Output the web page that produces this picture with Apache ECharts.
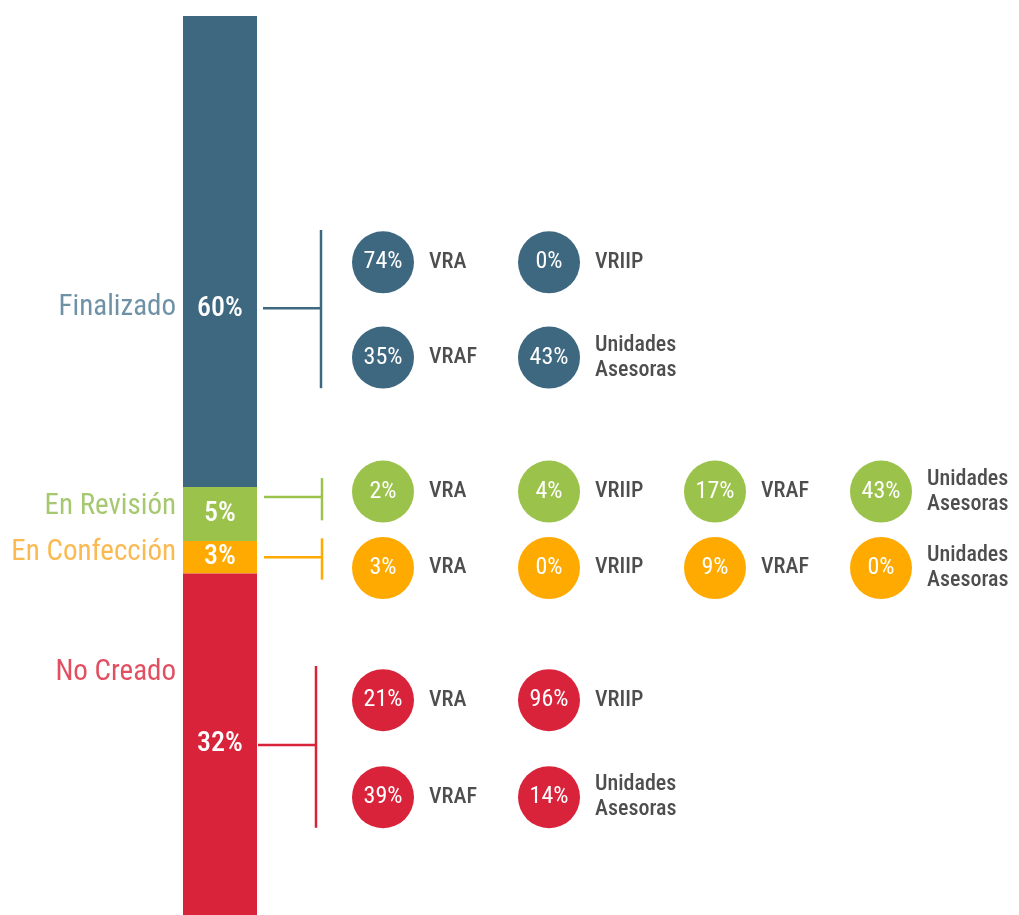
<!DOCTYPE html>
<html>
<head>
<meta charset="utf-8">
<script src="https://cdn.jsdelivr.net/npm/echarts@6/dist/echarts.min.js"></script>
<style>
  html, body { margin: 0; padding: 0; background: #fff; }
  #chart { width: 1019px; height: 915px; }
</style>
</head>
<body>
<div id="chart"></div>
<script>
// estados del proceso
const estados = ['Finalizado', 'En Revisión', 'En Confección', 'No Creado'];
const estadoPct = [60, 5, 3, 32];          // porcentaje impreso en la barra
const barShare = [52.4, 6.0, 3.6, 38.0];   // alto de cada tramo tal como se dibuja
const colores = ['#3e6880', '#9bc24b', '#ffaa00', '#d9233a'];
const coloresTexto = ['#4a7590', '#8fba4c', '#f9a825', '#d9233a'];

// detalle por unidad
const unidades = ['VRA', 'VRIIP', 'VRAF', 'Unidades\nAsesoras'];
const finalizado = [74, 0, 35, 43];
const revision = [2, 4, 17, 43];
const confeccion = [3, 0, 9, 0];
const noCreado = [21, 96, 39, 14];

// posiciones de fila (en unidades del eje vertical 0-100)
const nameRow = [32.5, 54.6, 59.7, 73.0];
const finRows = [27.4, 38.0];
const revRow = 52.9;
const confRow = 61.4;
const noRows = [76.1, 86.9];
// corchetes: centro, arriba, abajo
const brackets = [
  [32.5, 23.8, 41.4],
  [53.5, 51.4, 56.1],
  [60.2, 58.1, 62.7],
  [81.1, 72.3, 90.3]
];
const bracketDx = [-62, -61, -61, -67];

const FONT = "'Roboto Condensed', 'Liberation Sans Narrow', Roboto, sans-serif";

function circleItems(values, cells, color) {
  return values.map(function (v, i) {
    return {
      value: [cells[i][0], cells[i][1]],
      pct: v,
      unidad: unidades[i],
      itemStyle: { color: color }
    };
  });
}

const bloques = [
  circleItems(finalizado, [[0, finRows[0]], [1, finRows[0]], [0, finRows[1]], [1, finRows[1]]], colores[0]),
  circleItems(revision, [[0, revRow], [1, revRow], [2, revRow], [3, revRow]], colores[1]),
  circleItems(confeccion, [[0, confRow], [1, confRow], [2, confRow], [3, confRow]], colores[2]),
  circleItems(noCreado, [[0, noRows[0]], [1, noRows[0]], [0, noRows[1]], [1, noRows[1]]], colores[3])
];

const circleSeries = bloques.map(function (data) {
  return {
    type: 'scatter',
    xAxisIndex: 1,
    yAxisIndex: 1,
    symbolSize: 62,
    data: data,
    silent: true,
    itemStyle: { opacity: 1 },
    label: {
      show: true,
      position: 'inside',
      formatter: function (p) { return p.data.pct + '%'; },
      color: '#fff',
      fontFamily: FONT,
      fontSize: 24
    }
  };
});

const unitLabelSeries = bloques.map(function (data) {
  return {
    type: 'scatter',
    xAxisIndex: 1,
    yAxisIndex: 1,
    symbolSize: 62,
    data: data.map(function (d) {
      return { value: d.value, unidad: d.unidad, itemStyle: { color: 'rgba(0,0,0,0)' } };
    }),
    silent: true,
    label: {
      show: true,
      position: 'right',
      distance: 15,
      formatter: function (p) { return p.data.unidad; },
      color: '#222',
      fontWeight: 500,
      fontFamily: FONT,
      fontSize: 22,
      lineHeight: 25
    }
  };
});

const barSeries = estados.map(function (name, i) {
  return {
    type: 'bar',
    name: name,
    stack: 'total',
    barWidth: '100%',
    xAxisIndex: 0,
    yAxisIndex: 0,
    itemStyle: { color: colores[i] },
    label: {
      show: true,
      position: 'inside',
      offset: i === 0 ? [0, 57] : [0, 0],
      formatter: estadoPct[i] + '%',
      color: '#fff',
      fontWeight: 500,
      fontFamily: FONT,
      fontSize: 28
    },
    data: [barShare[i]]
  };
});

const nameSeries = {
  type: 'scatter',
  xAxisIndex: 0,
  yAxisIndex: 0,
  symbolSize: 0,
  silent: true,
  data: estados.map(function (n, i) {
    return {
      value: [0, nameRow[i]],
      label: { color: coloresTexto[i], formatter: n }
    };
  }),
  label: {
    show: true,
    position: 'left',
    distance: 44,
    fontFamily: FONT,
    fontSize: 29
  }
};

const bracketSeries = {
  type: 'custom',
  xAxisIndex: 1,
  yAxisIndex: 1,
  silent: true,
  data: brackets.map(function (b, i) { return [b[0], b[1], b[2], i]; }),
  renderItem: function (params, api) {
    const i = api.value(3);
    const mid = api.coord([0, api.value(0)]);
    const top = api.coord([0, api.value(1)]);
    const bot = api.coord([0, api.value(2)]);
    const vx = mid[0] + bracketDx[i];
    const style = { stroke: colores[i], lineWidth: 2.5 };
    return {
      type: 'group',
      children: [
        { type: 'line', shape: { x1: vx - 58, y1: mid[1], x2: vx, y2: mid[1] }, style: style },
        { type: 'line', shape: { x1: vx, y1: top[1], x2: vx, y2: bot[1] }, style: style }
      ]
    };
  }
};

const chart = echarts.init(document.getElementById('chart'));
chart.setOption({
  animation: false,
  backgroundColor: '#fff',
  grid: [
    { left: 183, width: 74, top: 16, bottom: 0 },
    { left: 300, width: 664, top: 16, bottom: 0 }
  ],
  xAxis: [
    { type: 'category', gridIndex: 0, data: ['Estado'], show: false },
    { type: 'category', gridIndex: 1, data: ['c1', 'c2', 'c3', 'c4'], show: false }
  ],
  yAxis: [
    { type: 'value', gridIndex: 0, min: 0, max: 100, inverse: true, show: false },
    { type: 'value', gridIndex: 1, min: 0, max: 100, inverse: true, show: false }
  ],
  series: barSeries.concat([nameSeries, bracketSeries]).concat(unitLabelSeries).concat(circleSeries)
});
</script>
</body>
</html>
